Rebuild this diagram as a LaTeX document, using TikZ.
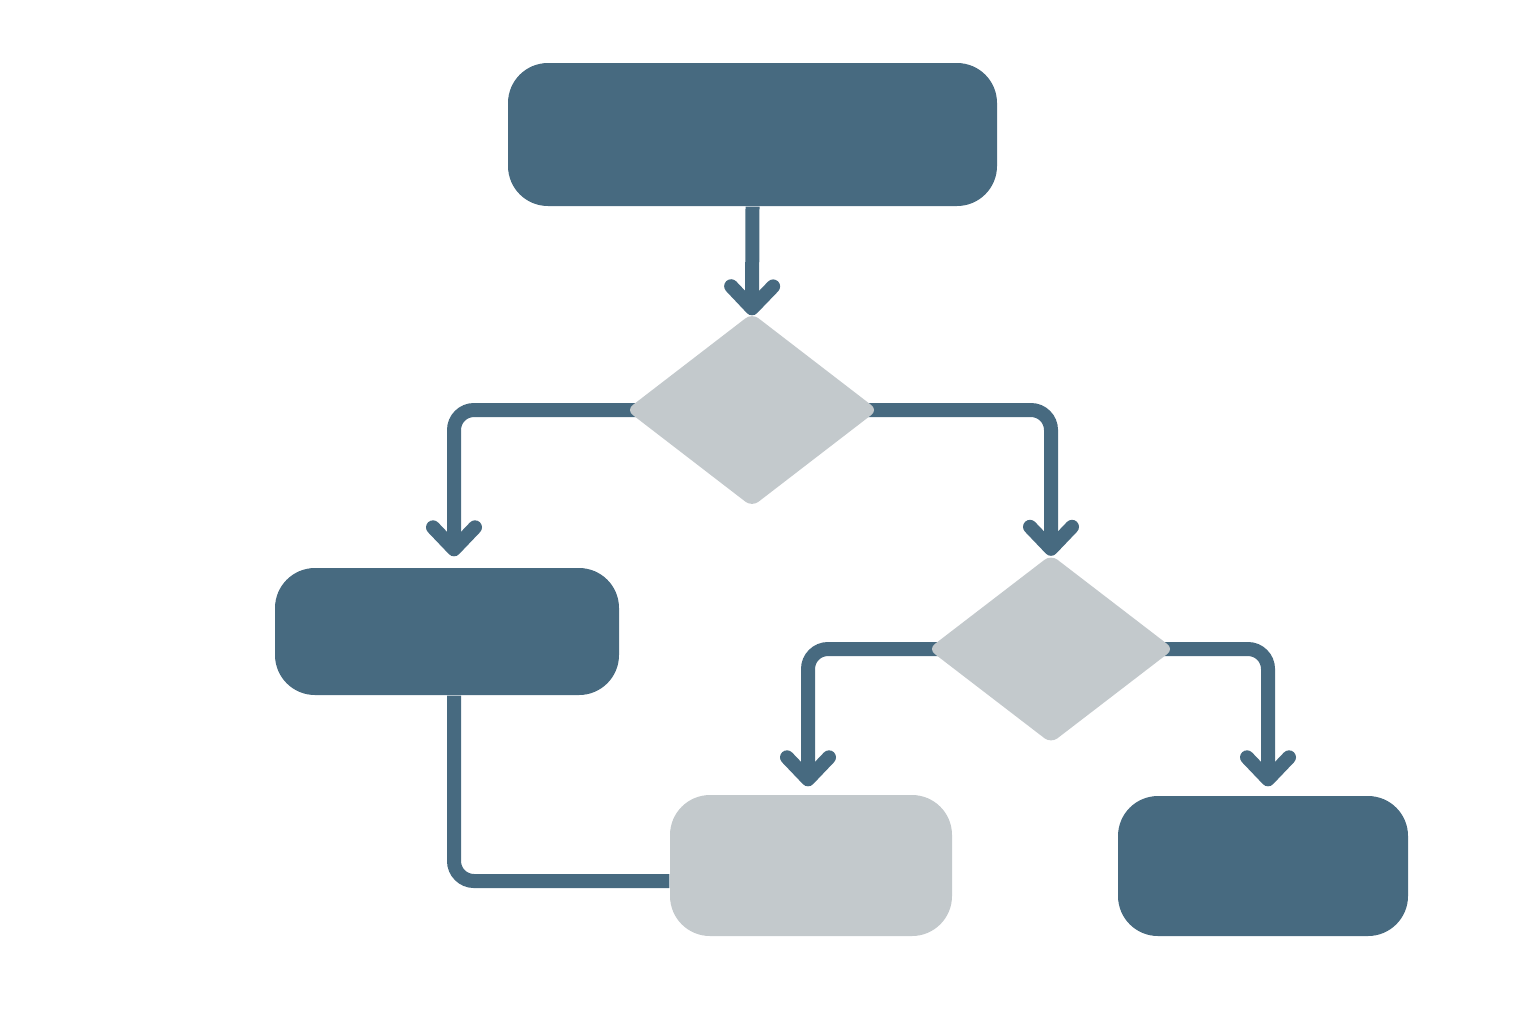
\documentclass[tikz,border=0pt]{standalone}
\usetikzlibrary{shapes.geometric, arrows.meta, backgrounds}

\definecolor{slate}{HTML}{476A80}
\definecolor{mist}{HTML}{C3C9CC}

\begin{document}
\begin{tikzpicture}[
    process/.style={shape=rectangle, rounded corners=0.4cm, inner sep=0},
    decision/.style={shape=diamond, fill=mist, rounded corners=0.08cm, inner sep=0},
    flow/.style={draw=slate, line width=0.14cm, rounded corners=0.2cm},
    >={Straight Barb[length=0.22cm, width=0.42cm, round]}
]

    \useasboundingbox (0, 0) rectangle (15.36, -10.24);

    % Boxes
    \node[process, fill=slate, minimum width=4.89cm, minimum height=1.43cm] (start) at (7.525, -1.345) {};
    \node[process, fill=slate, minimum width=3.44cm, minimum height=1.27cm] (left) at (4.47, -6.315) {};
    \node[process, fill=mist, minimum width=2.82cm, minimum height=1.41cm] (middle) at (8.11, -8.655) {};
    \node[process, fill=slate, minimum width=2.90cm, minimum height=1.40cm] (right) at (12.63, -8.66) {};

    % Decisions
    \node[decision, minimum width=2.52cm, minimum height=1.94cm] (first) at (7.52, -4.10) {};
    \node[decision, minimum width=2.46cm, minimum height=1.89cm] (second) at (10.51, -6.49) {};

    % Lines
    \begin{scope}[on background layer]
    \draw[flow, ->, shorten >=-0.03cm] (start.south) -- (first.north);
    \draw[flow, ->, shorten >=0.11cm] (first.center) -| ([xshift=0.07cm]left.north);
    \draw[flow, ->, shorten >=-0.02cm] (first.center) -| (second.north);
    \draw[flow, ->, shorten >=0.08cm] (second.center) -| ([xshift=-0.03cm]middle.north);
    \draw[flow, ->, shorten >=0.09cm] (second.center) -| ([xshift=0.05cm]right.north);
    \draw[flow] ([xshift=0.07cm]left.south) |- ([yshift=-0.155cm]middle.west);
    \end{scope}

\end{tikzpicture}
\end{document}
